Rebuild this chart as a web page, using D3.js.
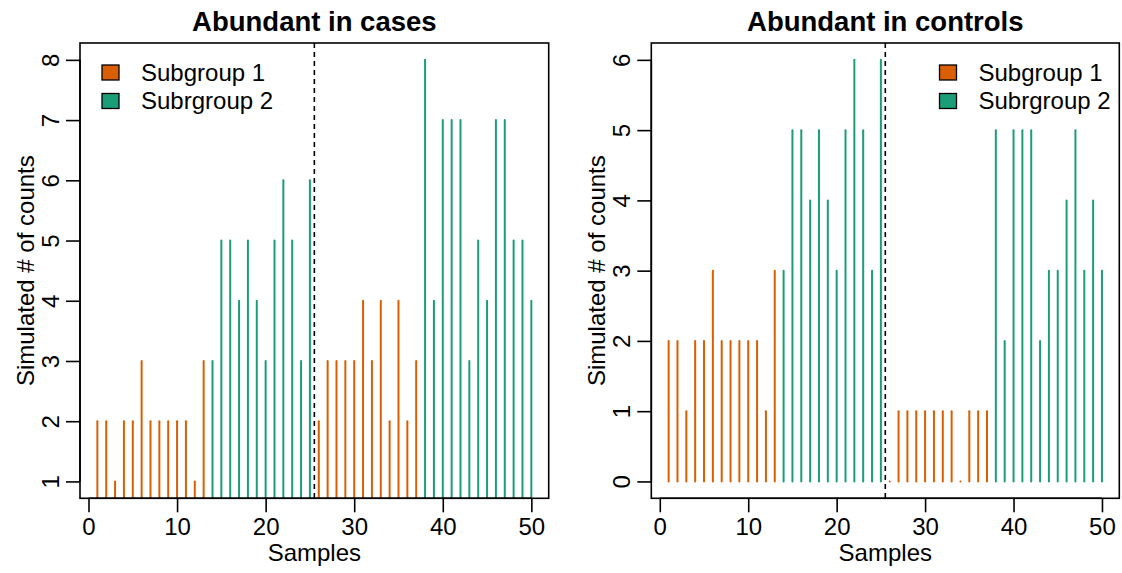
<!DOCTYPE html>
<html>
<head>
<meta charset="utf-8">
<script src="https://cdn.jsdelivr.net/npm/d3@7"></script>
<style>
  html, body { margin: 0; padding: 0; background: #fff; }
  svg text { font-family: "Liberation Sans", Arial, Helvetica, sans-serif; fill: #000; }
</style>
</head>
<body>
<svg id="chart" width="1122" height="573"></svg>
<script>
// Sample indices (x axis)
const samples = [1,2,3,4,5,6,7,8,9,10,11,12,13,14,15,16,17,18,19,20,21,22,23,24,25,
                 26,27,28,29,30,31,32,33,34,35,36,37,38,39,40,41,42,43,44,45,46,47,48,49,50];
// Subgroup membership per sample
const subgroup = [1,1,1,1,1,1,1,1,1,1,1,1,1,2,2,2,2,2,2,2,2,2,2,2,2,
                  1,1,1,1,1,1,1,1,1,1,1,1,2,2,2,2,2,2,2,2,2,2,2,2,2];
// Simulated counts per sample
const casesCounts = [2,2,1,2,2,3,2,2,2,2, 2,1,3,3,5,5,4,5,4,3, 5,6,5,3,6,2,3,3,3,3,
                     4,3,4,2,4,2,3,8,4,7, 7,7,3,5,4,7,7,5,5,4];
const controlsCounts = [2,2,1,2,2,3,2,2,2,2, 2,1,3,3,5,5,4,5,4,3, 5,6,5,3,6,0,1,1,1,1,
                        1,1,1,0,1,1,1,5,2,5, 5,5,2,3,3,4,5,3,4,3];
const casesTicks = [1,2,3,4,5,6,7,8];
const controlsTicks = [0,1,2,3,4,5,6];
const xTicks = [0,10,20,30,40,50];
const legendLabels = ["Subgroup 1", "Subrgroup 2"];
const groupColors = { 1: "#D95F02", 2: "#1B9E77" };
const splitAt = 25.5;

const FS = 24;       // axis / legend text size
const FS_TITLE = 27.5;

const svg = d3.select("#chart");

// R-style axis range: data range padded by 4% on each side
function padded(lo, hi) {
  const d = (hi - lo) * 0.04;
  return [lo - d, hi + d];
}

function panel(opts) {
  const { left, right, top, bottom, counts, yTicks, title, legendX } = opts;
  const g = svg.append("g");

  const x = d3.scaleLinear().domain(padded(d3.min(samples), d3.max(samples))).range([left, right]);
  const y = d3.scaleLinear().domain(padded(d3.min(counts), d3.max(counts))).range([bottom, top]);

  const clipId = "clip-" + Math.round(left);
  g.append("clipPath").attr("id", clipId)
    .append("rect").attr("x", left).attr("y", top).attr("width", right - left).attr("height", bottom - top);

  // Vertical "histogram-like" bars from zero up to the count
  g.append("g").attr("clip-path", `url(#${clipId})`)
    .selectAll("line").data(samples).join("line")
    .attr("x1", d => x(d)).attr("x2", d => x(d))
    .attr("y1", y(0)).attr("y2", (d, i) => y(counts[i]))
    .attr("stroke", (d, i) => groupColors[subgroup[i]])
    .attr("stroke-width", 2)
    .attr("stroke-linecap", "round");

  // Divider between the two halves of the samples
  g.append("line")
    .attr("x1", x(splitAt)).attr("x2", x(splitAt))
    .attr("y1", top).attr("y2", bottom)
    .attr("stroke", "#000").attr("stroke-width", 1.6)
    .attr("stroke-dasharray", "5,4");

  // Plot frame
  g.append("rect")
    .attr("x", left).attr("y", top).attr("width", right - left).attr("height", bottom - top)
    .attr("fill", "none").attr("stroke", "#000").attr("stroke-width", 1.6);

  const fmt = d3.format("d");

  // X axis
  const xAxis = d3.axisBottom(x).tickValues(xTicks).tickFormat(fmt).tickSize(14).tickSizeOuter(0);
  const xg = g.append("g").attr("transform", `translate(0,${bottom})`).call(xAxis);
  xg.select(".domain").attr("d", `M${x(xTicks[0])},0H${x(xTicks[xTicks.length - 1])}`).attr("stroke-width", 1.6);
  xg.selectAll(".tick line").attr("stroke-width", 1.6);
  xg.selectAll(".tick text").attr("font-size", FS).attr("y", 37).attr("dy", null);

  // Y axis
  const yAxis = d3.axisLeft(y).tickValues(yTicks).tickFormat(fmt).tickSize(14).tickSizeOuter(0);
  const yg = g.append("g").attr("transform", `translate(${left},0)`).call(yAxis);
  yg.select(".domain").attr("d", `M0,${y(yTicks[0])}V${y(yTicks[yTicks.length - 1])}`).attr("stroke-width", 1.6);
  yg.selectAll(".tick line").attr("stroke-width", 1.6);
  yg.selectAll(".tick text")
    .attr("font-size", FS)
    .attr("x", null).attr("dy", null)
    .attr("text-anchor", "middle")
    .attr("transform", "translate(-21,0) rotate(-90)");

  // Titles
  g.append("text")
    .attr("x", (left + right) / 2).attr("y", 31)
    .attr("text-anchor", "middle").attr("font-size", FS_TITLE).attr("font-weight", "bold")
    .text(title);
  g.append("text")
    .attr("x", (left + right) / 2).attr("y", 561)
    .attr("text-anchor", "middle").attr("font-size", FS)
    .text("Samples");
  g.append("text")
    .attr("transform", `translate(${left - 46},${(top + bottom) / 2}) rotate(-90)`)
    .attr("text-anchor", "middle").attr("font-size", FS)
    .text("Simulated # of counts");

  // Legend
  const lg = g.append("g").attr("transform", `translate(${legendX},0)`);
  legendLabels.forEach((lab, k) => {
    const cy = 72.5 + k * 28.5;
    lg.append("rect")
      .attr("x", 0).attr("y", cy - 7.5).attr("width", 17).attr("height", 15)
      .attr("fill", groupColors[k + 1]).attr("stroke", "#000").attr("stroke-width", 1.3);
    lg.append("text")
      .attr("x", 39).attr("y", cy + 8)
      .attr("font-size", FS)
      .text(lab);
  });
}

panel({ left: 80, right: 548.7, top: 43, bottom: 498.3, counts: casesCounts,
        yTicks: casesTicks, title: "Abundant in cases", legendX: 102 });
panel({ left: 651.3, right: 1119.3, top: 43, bottom: 498.3, counts: controlsCounts,
        yTicks: controlsTicks, title: "Abundant in controls", legendX: 939.5 });
</script>
</body>
</html>
